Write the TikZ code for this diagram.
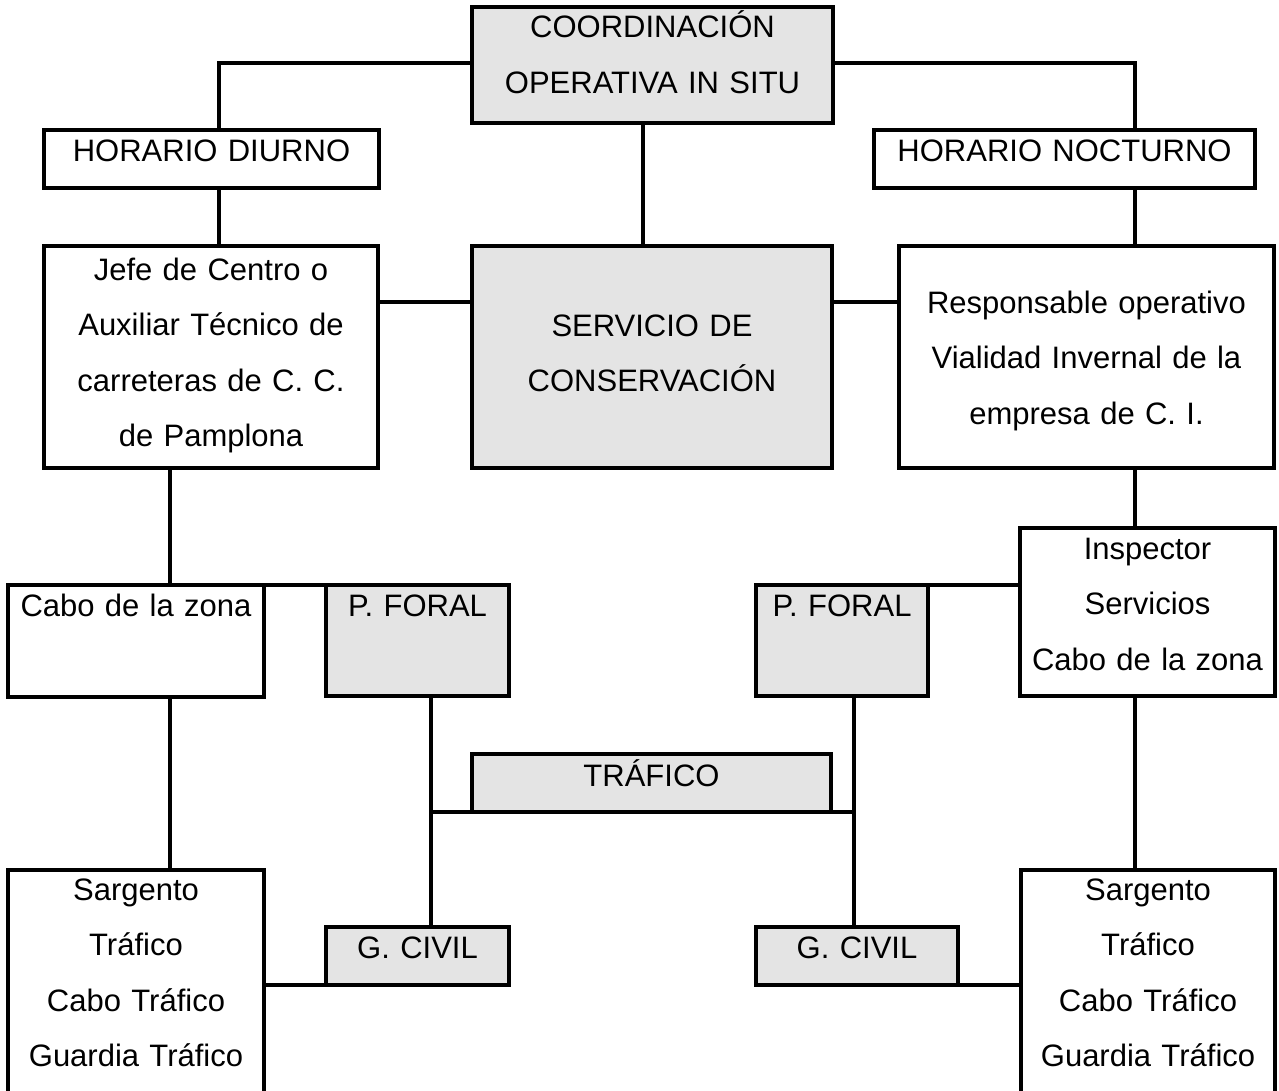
\documentclass[tikz,border=0pt]{standalone}
\usepackage{fontspec}
\setmainfont{Liberation Sans}
\definecolor{boxgray}{RGB}{228,228,228}
\begin{document}
\begin{tikzpicture}[x=1pt,y=-1pt,
  frame/.style={draw=black,line width=3.3pt,rectangle,inner sep=0pt,outer sep=0pt},
  shaded/.style={frame,fill=boxgray},
  plain/.style={frame,fill=white},
  txt/.style={anchor=base,inner sep=0pt,text width=420pt,align=center,
    font=\fontsize{31}{55.5}\selectfont},
  wire/.style={draw=black,line width=3.3pt,line cap=rect}]
\useasboundingbox (0,0) rectangle (1279,1091);
\clip (0,0) rectangle (1279,1091);

% boxes
\node[shaded,minimum width=361pt,minimum height=116pt] (coord) at (652.5,65) {};
\node[plain,minimum width=335pt,minimum height=58pt] (hd) at (211.5,159) {};
\node[plain,minimum width=381pt,minimum height=58pt] (hn) at (1064.5,159) {};
\node[plain,minimum width=334pt,minimum height=222pt] (jefe) at (211,357) {};
\node[shaded,minimum width=360pt,minimum height=222pt] (serv) at (652,357) {};
\node[plain,minimum width=375pt,minimum height=222pt] (resp) at (1086.5,357) {};
\node[plain,minimum width=256pt,minimum height=112pt] (cabo) at (136,641) {};
\node[shaded,minimum width=183pt,minimum height=111pt] (pfl) at (417.5,640.5) {};
\node[shaded,minimum width=172pt,minimum height=111pt] (pfr) at (842,640.5) {};
\node[plain,minimum width=255pt,minimum height=168pt] (insp) at (1147.5,612) {};
\node[shaded,minimum width=359pt,minimum height=58pt] (traf) at (651.5,783) {};
\node[shaded,minimum width=183pt,minimum height=58pt] (gcl) at (417.5,956) {};
\node[shaded,minimum width=202pt,minimum height=58pt] (gcr) at (857,956) {};
\node[plain,minimum width=256pt,minimum height=250pt] (sargl) at (136,995) {};
\node[plain,minimum width=254pt,minimum height=250pt] (sargr) at (1148,995) {};

% texts
\node[txt] (coord-t) at (652.5,38) {COORDINACIÓN\\OPERATIVA IN SITU};
\node[txt] (hd-t) at (211.5,162) {HORARIO DIURNO};
\node[txt] (hn-t) at (1064.5,162) {HORARIO NOCTURNO};
\node[txt] (jefe-t) at (211,280) {Jefe de Centro o\\Auxiliar Técnico de\\carreteras de C. C.\\de Pamplona};
\node[txt] (serv-t) at (652,336) {SERVICIO DE\\CONSERVACIÓN};
\node[txt] (resp-t) at (1086.5,313) {Responsable operativo\\Vialidad Invernal de la\\empresa de C. I.};
\node[txt] (cabo-t) at (136,616) {Cabo de la zona};
\node[txt] (pfl-t) at (417.5,616) {P. FORAL};
\node[txt] (pfr-t) at (842,616) {P. FORAL};
\node[txt] (insp-t) at (1147.5,559) {Inspector\\Servicios\\Cabo de la zona};
\node[txt] (traf-t) at (651.5,786) {TRÁFICO};
\node[txt] (gcl-t) at (417.5,958) {G. CIVIL};
\node[txt] (gcr-t) at (857,958) {G. CIVIL};
\node[txt] (sargl-t) at (136,900) {Sargento\\Tráfico\\Cabo Tráfico\\Guardia Tráfico};
\node[txt] (sargr-t) at (1148,900) {Sargento\\Tráfico\\Cabo Tráfico\\Guardia Tráfico};

% bend and junction points of the connectors
\coordinate (tl) at (219,63);
\coordinate (tr) at (1135,63);
\coordinate (cm) at (643,0);
\coordinate (ml) at (0,302);
\coordinate (lx) at (170,0);
\coordinate (jl) at (431,812);
\coordinate (jr) at (854,812);

% connectors
\draw[wire] (coord.west |- tl) -- (tl) -- (hd.north -| tl);
\draw[wire] (coord.east |- tr) -- (tr) -- (hn.north -| tr);
\draw[wire] (coord.south -| cm) -- (serv.north -| cm);
\draw[wire] (hd.south -| tl) -- (jefe.north -| tl);
\draw[wire] (hn.south -| tr) -- (resp.north -| tr);
\draw[wire] (jefe.east |- ml) -- (serv.west |- ml);
\draw[wire] (serv.east |- ml) -- (resp.west |- ml);
\draw[wire] (jefe.south -| lx) -- (cabo.north -| lx);
\draw[wire] (cabo.south -| lx) -- (sargl.north -| lx);
\draw[wire] (resp.south -| tr) -- (insp.north -| tr);
\draw[wire] (insp.south -| tr) -- (sargr.north -| tr);
\draw[wire] (cabo.north east) -- (pfl.north west);
\draw[wire] (pfr.north east) -- (insp.west |- pfr.north);
\draw[wire] (pfl.south -| jl) -- (gcl.north -| jl);
\draw[wire] (pfr.south -| jr) -- (gcr.north -| jr);
\draw[wire] (jl) -- (jr);
\draw[wire] (sargl.east |- gcl.south) -- (gcl.south west);
\draw[wire] (gcr.south east) -- (sargr.west |- gcr.south);
\end{tikzpicture}
\end{document}
